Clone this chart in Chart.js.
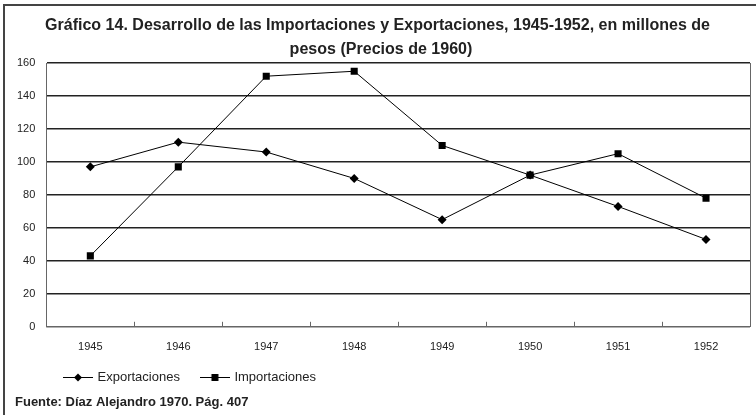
<!DOCTYPE html>
<html>
<head>
<meta charset="utf-8">
<script src="https://cdn.jsdelivr.net/npm/chart.js@4/dist/chart.umd.min.js"></script>
<style>
  html, body { margin: 0; padding: 0; background: #fff; }
  #wrap { width: 756px; height: 415px; position: relative; }
</style>
</head>
<body>
<div id="wrap"><canvas id="c" width="756" height="415"></canvas></div>
<script>
const titleLines = [
  'Gráfico 14. Desarrollo de las Importaciones y Exportaciones, 1945-1952, en millones de',
  'pesos (Precios de 1960)'
];
const footerText = 'Fuente: Díaz Alejandro 1970. Pág. 407';
const years = ['1945', '1946', '1947', '1948', '1949', '1950', '1951', '1952'];
const exportaciones = [97, 112, 106, 90, 65, 92, 73, 53];
const importaciones = [43, 97, 152, 155, 110, 92, 105, 78];
const yTicks = [0, 20, 40, 60, 80, 100, 120, 140, 160];

const FONT = '"Liberation Sans", Arial, Helvetica, sans-serif';
Chart.defaults.font.family = FONT;
Chart.defaults.color = '#222';

function legendIcon(kind) {
  const c = document.createElement('canvas');
  c.width = 30; c.height = 10;
  const g = c.getContext('2d');
  g.strokeStyle = '#000'; g.lineWidth = 1;
  g.beginPath(); g.moveTo(0, 5.5); g.lineTo(30, 5.5); g.stroke();
  g.fillStyle = '#000';
  if (kind === 'diamond') {
    g.beginPath(); g.moveTo(15, 1.5); g.lineTo(19, 5.5); g.lineTo(15, 9.5); g.lineTo(11, 5.5); g.closePath(); g.fill();
  } else {
    g.fillRect(11.5, 2, 7, 7);
  }
  return c;
}
const icons = [legendIcon('diamond'), legendIcon('square')];

const LEGEND_PAD = 22;
const LEGEND_FONT = 13;

const decorPlugin = {
  id: 'decor',
  beforeDraw(chart) {
    const ctx = chart.ctx;
    ctx.save();
    ctx.strokeStyle = '#444';
    ctx.lineWidth = 2;
    ctx.beginPath();
    ctx.moveTo(4, 415); ctx.lineTo(4, 5); ctx.lineTo(756, 5);
    ctx.stroke();
    ctx.restore();
  },
  afterLayout(chart) {
    const lg = chart.legend;
    if (lg) {
      const w = lg.width, h = lg.height;
      lg.left = 65 - LEGEND_PAD; lg.right = lg.left + w;
      lg.top = 377 - LEGEND_PAD - LEGEND_FONT / 2; lg.bottom = lg.top + h;
    }
  },
  afterDraw(chart) {
    const ctx = chart.ctx;
    const a = chart.chartArea;
    ctx.save();
    ctx.strokeStyle = '#666'; ctx.lineWidth = 1;
    ctx.beginPath(); ctx.moveTo(a.right + 0.5, a.top); ctx.lineTo(a.right + 0.5, a.bottom); ctx.stroke();
    ctx.fillStyle = '#222';
    ctx.font = 'bold 16px ' + FONT;
    const sx = 665 / ctx.measureText(titleLines[0]).width;
    const baselines = [30, 53.5];
    const centers = [377.5, 381];
    ctx.textAlign = 'center';
    ctx.textBaseline = 'alphabetic';
    titleLines.forEach((t, i) => {
      ctx.save();
      ctx.translate(centers[i], baselines[i]);
      ctx.scale(sx, 1);
      ctx.fillText(t, 0, 0);
      ctx.restore();
    });
    ctx.font = 'bold 13px ' + FONT;
    ctx.textAlign = 'left';
    ctx.fillText(footerText, 15, 406);
    ctx.restore();
  }
};

new Chart(document.getElementById('c'), {
  type: 'line',
  data: {
    labels: years,
    datasets: [
      {
        label: 'Exportaciones',
        data: exportaciones,
        borderColor: '#000', backgroundColor: '#000',
        borderWidth: 1, pointStyle: 'rectRot', pointRadius: 4.5,
        pointBorderWidth: 0, tension: 0
      },
      {
        label: 'Importaciones',
        data: importaciones,
        borderColor: '#000', backgroundColor: '#000',
        borderWidth: 1, pointStyle: 'rect', pointRadius: 5,
        pointBorderWidth: 0, tension: 0
      }
    ]
  },
  options: {
    responsive: false,
    animation: false,
    devicePixelRatio: 1,
    layout: { padding: { top: 63, left: 6, right: 6, bottom: -3 } },
    plugins: {
      title: { display: false },
      tooltip: { enabled: false },
      legend: {
        position: 'bottom',
        align: 'start',
        labels: {
          usePointStyle: true,
          pointStyleWidth: 26,
          padding: LEGEND_PAD,
          color: '#222',
          font: { size: LEGEND_FONT },
          generateLabels: (chart) => chart.data.datasets.map((ds, i) => ({
            text: ds.label,
            pointStyle: icons[i],
            fillStyle: '#000',
            strokeStyle: '#000',
            lineWidth: 0,
            hidden: false,
            datasetIndex: i,
            fontColor: '#222'
          }))
        }
      }
    },
    scales: {
      x: {
        offset: true,
        grid: {
          offset: true,
          drawOnChartArea: false,
          drawTicks: true,
          tickLength: -5,
          color: '#666'
        },
        border: { color: '#666', width: 1 },
        ticks: { padding: 19, color: '#222', font: { size: 11 }, maxRotation: 0 }
      },
      y: {
        min: 0, max: 160,
        afterBuildTicks: (scale) => { scale.ticks = yTicks.map(v => ({ value: v })); },
        grid: {
          drawTicks: false,
          color: (c) => c.tick && c.tick.value === 0 ? '#666' : '#222',
          lineWidth: 1.4
        },
        border: { color: '#666', width: 1 },
        ticks: { padding: 11, color: '#222', font: { size: 11 } }
      }
    }
  },
  plugins: [decorPlugin]
});
</script>
</body>
</html>
